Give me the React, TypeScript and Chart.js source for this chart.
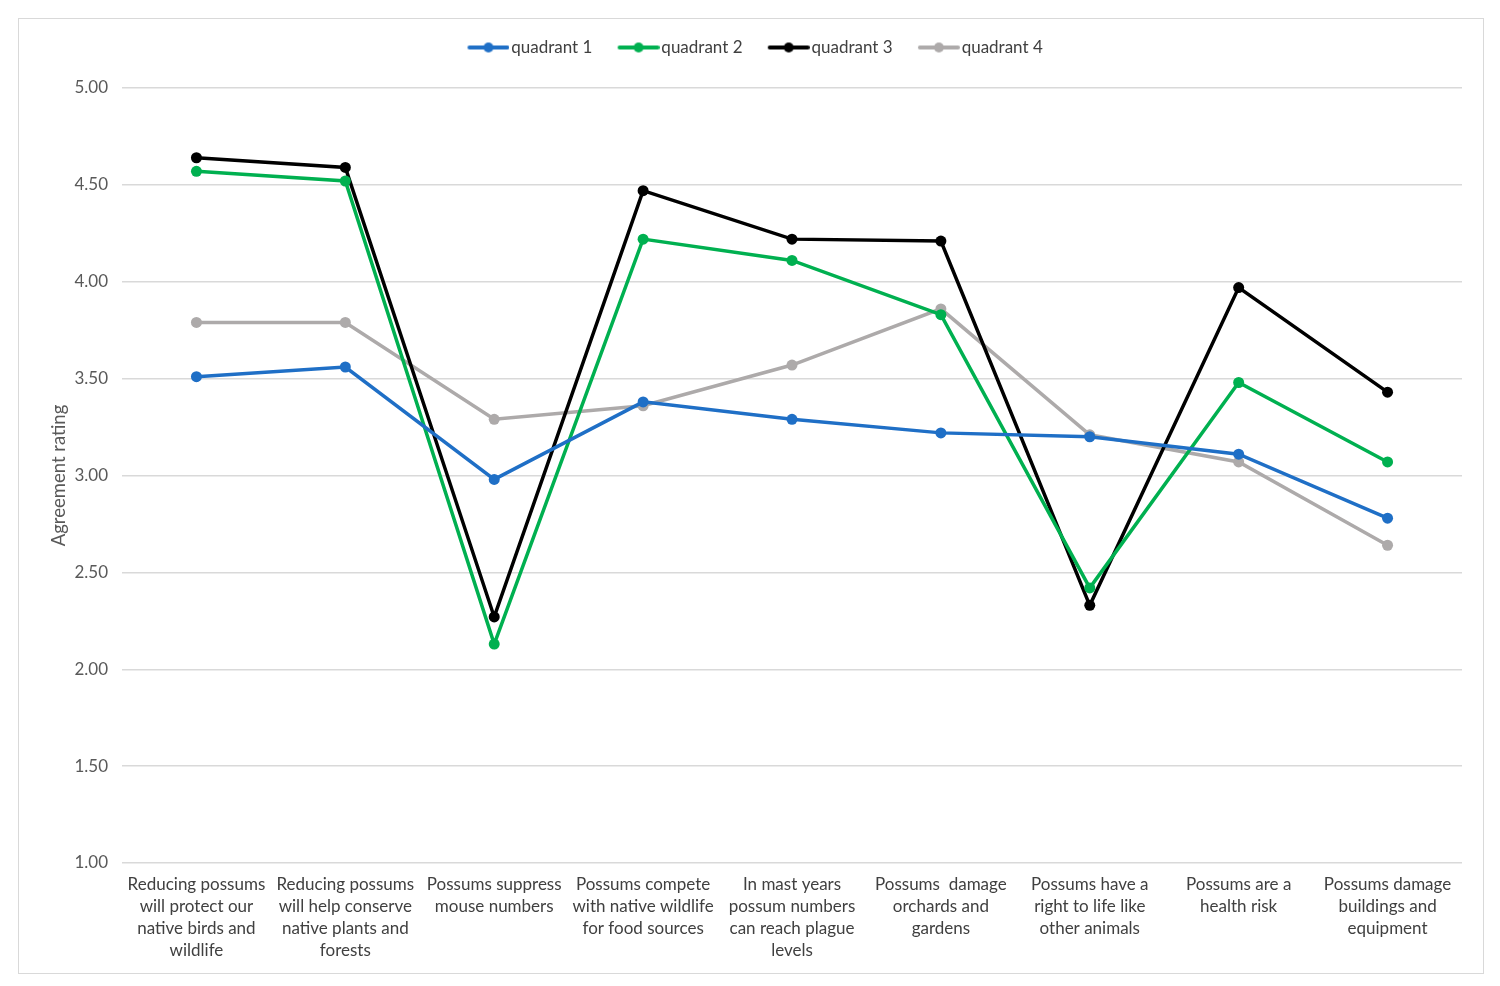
import React, { useEffect, useRef } from "react";
import { Chart, registerables } from "chart.js";

Chart.register(...registerables);

const categories: string[][] = [
  ["Reducing possums", "will protect our", "native birds and", "wildlife"],
  ["Reducing possums", "will help conserve", "native plants and", "forests"],
  ["Possums suppress", "mouse numbers"],
  ["Possums compete", "with native wildlife", "for food sources"],
  ["In mast years", "possum numbers", "can reach plague", "levels"],
  ["Possums  damage", "orchards and", "gardens"],
  ["Possums have a", "right to life like", "other animals"],
  ["Possums are a", "health risk"],
  ["Possums damage", "buildings and", "equipment"],
];

const quadrant1 = [3.51, 3.56, 2.98, 3.38, 3.29, 3.22, 3.2, 3.11, 2.78];
const quadrant2 = [4.57, 4.52, 2.13, 4.22, 4.11, 3.83, 2.42, 3.48, 3.07];
const quadrant3 = [4.64, 4.59, 2.27, 4.47, 4.22, 4.21, 2.33, 3.97, 3.43];
const quadrant4 = [3.79, 3.79, 3.29, 3.36, 3.57, 3.86, 3.21, 3.07, 2.64];

const seriesNames = ["quadrant 1", "quadrant 2", "quadrant 3", "quadrant 4"];
const seriesColors = ["#1F6FC6", "#00B050", "#000000", "#ADAAAA"];

function legendIcon(color: string): HTMLCanvasElement {
  const c = document.createElement("canvas");
  c.width = 49;
  c.height = 12;
  const ctx = c.getContext("2d")!;
  ctx.strokeStyle = color;
  ctx.lineWidth = 4;
  ctx.lineCap = "round";
  ctx.beginPath();
  ctx.moveTo(9, 6);
  ctx.lineTo(47, 6);
  ctx.stroke();
  ctx.fillStyle = color;
  ctx.beginPath();
  ctx.arc(28, 6, 5, 0, Math.PI * 2);
  ctx.fill();
  return c;
}

const legendHeight = {
  id: "legendHeight",
  beforeInit(chart: any) {
    const fit = chart.legend.fit;
    chart.legend.fit = function () {
      fit.bind(chart.legend)();
      this.height = 74;
    };
  },
};

export default function App() {
  const ref = useRef<HTMLCanvasElement>(null);
  useEffect(() => {
    if (!ref.current) return;
    const data = [quadrant1, quadrant2, quadrant3, quadrant4];
    const font = "Lato";
    const chart = new Chart(ref.current, {
      type: "line",
      data: {
        labels: categories,
        datasets: data.map((d, i) => ({
          label: seriesNames[i],
          data: d,
          borderColor: seriesColors[i],
          backgroundColor: seriesColors[i],
          borderWidth: 3.5,
          pointRadius: 5.5,
          pointHoverRadius: 5.5,
          pointBorderWidth: 0,
          tension: 0,
          pointStyle: "circle",
        })),
      },
      plugins: [legendHeight],
      options: {
        animation: false,
        responsive: false,
        maintainAspectRatio: false,
        layout: { padding: { top: 0, left: 29, right: 21, bottom: 0 } },
        plugins: {
          tooltip: { enabled: false },
          legend: {
            position: "top",
            labels: {
              usePointStyle: true,
              pointStyleWidth: 35.5,
              color: "#404040",
              font: { family: font, size: 17 },
              padding: 25,
              generateLabels: (ch: any) =>
                ch.data.datasets.map((ds: any, i: number) => ({
                  text: ds.label,
                  pointStyle: legendIcon(seriesColors[i]),
                  fillStyle: seriesColors[i],
                  strokeStyle: seriesColors[i],
                  lineWidth: 0,
                  hidden: false,
                  datasetIndex: i,
                  fontColor: "#404040",
                })),
            },
          },
        },
        scales: {
          x: {
            offset: true,
            grid: { display: false, drawTicks: false },
            border: { display: false },
            afterFit: (s: any) => {
              s.height = 110;
            },
            ticks: {
              color: "#404040",
              font: { family: font, size: 17, lineHeight: 1.294 },
              maxRotation: 0,
              autoSkip: false,
              padding: 11,
            },
          },
          y: {
            min: 1,
            max: 5,
            grid: { color: "#D9D9D9", lineWidth: 1.5, drawTicks: false },
            border: { display: false },
            afterFit: (s: any) => {
              s.width = 74;
            },
            ticks: {
              stepSize: 0.5,
              color: "#595959",
              font: { family: font, size: 17 },
              padding: 14,
              callback: (v: any) => Number(v).toFixed(2),
            },
            title: {
              display: true,
              text: "Agreement rating",
              color: "#595959",
              font: { family: font, size: 18.5 },
              padding: { top: 0, bottom: 0 },
            },
          },
        },
      },
    });
    return () => chart.destroy();
  }, []);
  return (
    <div
      style={{
        position: "absolute",
        left: 18,
        top: 18,
        width: 1464,
        height: 954,
        border: "1px solid #D9D9D9",
        background: "#fff",
      }}
    >
      <canvas
        ref={ref}
        width={1464}
        height={959}
        style={{ display: "block", position: "absolute", left: 0, top: -5 }}
      />
    </div>
  );
}
